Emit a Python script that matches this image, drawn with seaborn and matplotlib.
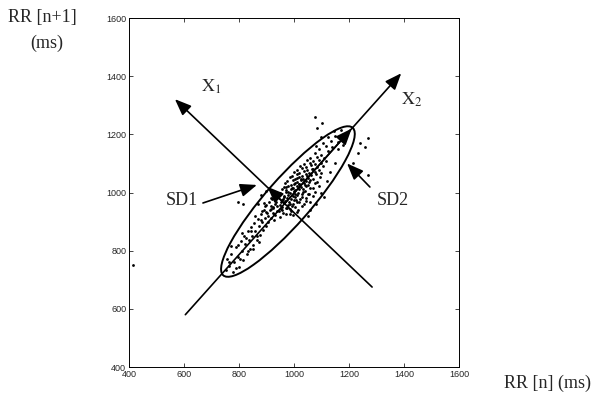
import matplotlib
matplotlib.use("Agg")
import matplotlib.pyplot as plt
import seaborn as sns
from matplotlib.patches import Ellipse

# -----------------------------
# data (RR intervals, ms)
# -----------------------------
ticks = [400, 600, 800, 1000, 1200, 1400, 1600]

# sparse lower tail of the cloud
tail_x = [752, 758, 765, 772, 778, 783, 790, 795, 801, 806, 810, 815, 819, 823, 828, 832, 836, 840, 845, 848,
          852, 856, 860, 864, 868, 872, 875, 879, 882, 886, 890, 893, 897, 900, 903, 907, 910, 913, 916, 920,
          922, 926, 770, 788, 812, 834, 858, 874, 895, 805, 842, 866, 880, 762, 798, 826, 850, 884, 918, 928]
tail_y = [735, 772, 748, 790, 728, 762, 812, 778, 745, 835, 800, 768, 850, 822, 790, 866, 838, 806, 882, 852,
          820, 896, 868, 838, 910, 884, 855, 926, 898, 870, 940, 912, 884, 956, 928, 900, 966, 940, 912, 978,
          950, 925, 815, 742, 862, 800, 920, 830, 955, 770, 868, 852, 905, 760, 820, 845, 805, 935, 955, 905]

# dense core
core_x = [905, 930, 948, 972, 995,
          900, 922, 945, 960, 985, 1010,
          915, 938, 952, 970, 990, 1015,
          925, 940, 958, 975, 992, 1005, 1028,
          930, 948, 962, 978, 996, 1012, 1035,
          935, 955, 968, 983, 1000, 1018, 1042, 1060,
          940, 960, 975, 990, 1005, 1022, 1045,
          945, 962, 980, 995, 1010, 1028, 1050, 1070,
          950, 970, 985, 1000, 1015, 1032, 1055, 1078,
          955, 972, 990, 1005, 1020, 1040, 1060,
          962, 980, 996, 1012, 1025, 1045, 1068, 1090,
          968, 988, 1002, 1018, 1035, 1052, 1075,
          975, 995, 1010, 1025, 1042, 1060, 1085,
          985, 1002, 1018, 1032, 1050, 1070, 1095,
          992, 1010, 1028, 1045, 1062, 1080,
          1000, 1020, 1038, 1055, 1075, 1098,
          1012, 1030, 1048, 1068, 1090,
          1022, 1045, 1062, 1085, 1105,
          1035, 1058, 1078, 1100,
          1048, 1070, 1092, 1115,
          1060, 1085, 1108,
          952, 965, 987, 1003, 1017, 1033, 1048, 1008, 993, 1026,
          978, 1040, 958, 1055, 1012, 985, 1065, 1030, 970, 1000,
          880, 900, 915, 870, 1060, 1080, 1100, 1050, 1120, 1130,
          1150, 1110, 890, 796, 815]
core_y = [918, 924, 915, 927, 921,
          933, 928, 936, 931, 927, 934,
          944, 938, 942, 946, 937, 941,
          948, 955, 951, 947, 953, 949, 954,
          962, 958, 964, 957, 961, 966, 959,
          968, 973, 971, 966, 974, 969, 972, 967,
          983, 978, 982, 977, 985, 979, 981,
          992, 987, 993, 988, 991, 986, 994, 989,
          998, 1003, 997, 1004, 999, 1002, 996, 1001,
          1012, 1007, 1013, 1008, 1011, 1006, 1014,
          1018, 1023, 1017, 1022, 1019, 1024, 1016, 1021,
          1032, 1027, 1033, 1028, 1031, 1026, 1034,
          1038, 1043, 1037, 1042, 1039, 1044, 1036,
          1052, 1047, 1053, 1048, 1051, 1046, 1054,
          1058, 1063, 1057, 1062, 1059, 1064,
          1072, 1067, 1073, 1068, 1071, 1066,
          1078, 1083, 1077, 1082, 1079,
          1092, 1087, 1093, 1088, 1091,
          1098, 1103, 1097, 1102,
          1112, 1107, 1113, 1108,
          1118, 1123, 1117,
          968, 985, 960, 995, 1030, 1012, 1058, 975, 1015, 1047,
          1001, 1025, 940, 1035, 1050, 945, 1080, 995, 1020, 1030,
          990, 1005, 980, 960, 940, 960, 1000, 920, 1040, 1070,
          1100, 985, 965, 967, 962]

# sparse upper end and the few outliers
upper_x = [1075, 1100, 1125, 1090, 1118, 1140, 1105, 1135, 1160, 1125, 1150, 1175, 1145, 1170, 1190,
           1160, 1180, 1080, 1100, 1076, 1102, 1084, 1269, 1258, 1269, 1240, 1232, 1215, 415]
upper_y = [1135, 1128, 1142, 1150, 1160, 1155, 1170, 1178, 1172, 1190, 1195, 1188, 1210, 1215, 1205,
           1150, 1165, 1160, 1190, 1260, 1239, 1222, 1187, 1156, 1060, 1170, 1135, 1100, 750]

rr_n = tail_x + core_x + upper_x
rr_next = tail_y + core_y + upper_y

# -----------------------------
# figure
# -----------------------------
sns.set_style("ticks")
plt.rcParams["font.family"] = ["Liberation Serif", "DejaVu Serif"]
plt.rcParams["mathtext.fontset"] = "stix"

fig = plt.figure(figsize=(5.93, 3.96), dpi=100)
ax = fig.add_axes([0.2175, 0.0732, 0.5565, 0.8813])

sns.scatterplot(x=rr_n, y=rr_next, ax=ax, s=4, color="black", linewidth=0, legend=False)

ax.set_xlim(400, 1600)
ax.set_ylim(400, 1600)
ax.set_xticks(ticks)
ax.set_yticks(ticks)
ax.tick_params(direction="in", top=True, right=True, length=3, width=0.6,
               labelsize=6.5, pad=2)
for lab in ax.get_xticklabels() + ax.get_yticklabels():
    lab.set_family("Liberation Sans")
for sp in ax.spines.values():
    sp.set_visible(True)
    sp.set_linewidth(0.7)
    sp.set_color("black")

# ellipse fitted to the cloud
ax.add_patch(Ellipse((978, 969), 692, 160, angle=47, fill=False, lw=1.4, color="black"))


def arrow(start, end, hl=1.0, hw=0.4):
    ax.annotate("", xy=end, xytext=start,
                arrowprops=dict(arrowstyle=f"-|>,head_length={hl},head_width={hw}",
                                color="black", lw=1.2, shrinkA=0, shrinkB=0))


# principal axes X1, X2
arrow((1284, 675), (567, 1321))
arrow((605, 580), (1390, 1410))
# SD1 / SD2 along the axes
arrow((966, 962), (903, 1020))
arrow((966, 962), (1210, 1220))
# label pointers
arrow((669, 964), (865, 1026))
arrow((1276, 1019), (1193, 1100))

ax.text(593, 974, "SD1", fontsize=13, ha="center", va="center")
ax.text(1360, 974, "SD2", fontsize=13, ha="center", va="center")
ax.text(698, 1363, r"$\mathrm{X}_1$", fontsize=13, ha="center", va="center")
ax.text(1429, 1318, r"$\mathrm{X}_2$", fontsize=13, ha="center", va="center")

ax.set_xlabel("")
ax.set_ylabel("")
fig.text(0.071, 0.955, "RR [n+1]", fontsize=13, ha="center", va="center")
fig.text(0.079, 0.891, "(ms)", fontsize=13, ha="center", va="center")
fig.text(0.924, 0.033, "RR [n] (ms)", fontsize=13, ha="center", va="center")

fig.savefig("out.png", dpi=100)
plt.close()
